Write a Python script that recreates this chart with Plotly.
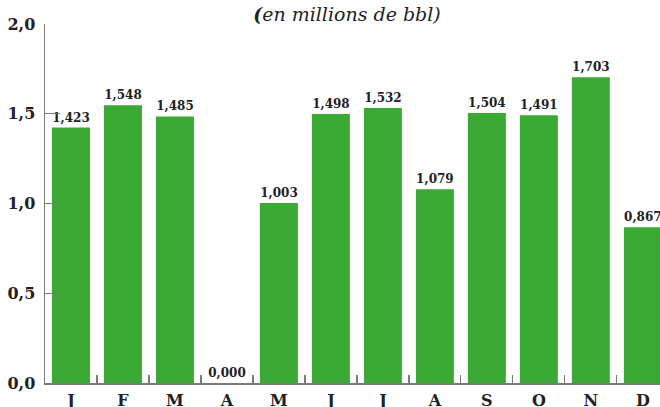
import plotly.graph_objects as go

months = ["Jan", "Feb", "Mar", "Apr", "May", "Jun", "Jul", "Aug", "Sep", "Oct", "Nov", "Dec"]
month_letters = ["J", "F", "M", "A", "M", "J", "J", "A", "S", "O", "N", "D"]
values = [1.423, 1.548, 1.485, 0.000, 1.003, 1.498, 1.532, 1.079, 1.504, 1.491, 1.703, 0.867]
value_labels = ["1,423", "1,548", "1,485", "0,000", "1,003", "1,498", "1,532", "1,079", "1,504", "1,491", "1,703", "0,867"]
y_tickvals = [0, 0.5, 1.0, 1.5, 2.0]
y_ticktext = ["0,0", "0,5", "1,0", "1,5", "2,0"]
title_text = "<b>(</b>en millions de bbl)"

GREEN = "#3BAA35"
AXIS = "#7a7a7a"
SERIF = "DejaVu Serif"

fig = go.Figure()
fig.add_trace(go.Bar(
    x=months,
    y=values,
    marker=dict(color=GREEN, line=dict(width=0)),
    text=value_labels,
    textposition="outside",
    textfont=dict(family=SERIF, size=12, color="#222222", weight="bold"),
    cliponaxis=False,
    hoverinfo="skip",
))

fig.update_layout(
    width=660, height=407,
    margin=dict(l=45, r=0, t=24, b=24),
    paper_bgcolor="white",
    plot_bgcolor="white",
    bargap=0.27,
    showlegend=False,
    title=dict(
        text=title_text,
        x=0.491, xref="paper", xanchor="center",
        y=1 - 14 / 407, yref="container", yanchor="middle",
        font=dict(family=SERIF, size=19, color="#222222", style="italic"),
    ),
    xaxis=dict(
        type="category",
        range=[-0.5, 11.33],
        tickvals=months,
        ticktext=month_letters,
        tickson="boundaries",
        ticks="inside",
        ticklen=8,
        tickwidth=1.2,
        tickcolor=AXIS,
        showline=True,
        linecolor=AXIS,
        linewidth=1.5,
        showgrid=False,
        zeroline=False,
        automargin=False,
        ticklabelstandoff=2,
        tickfont=dict(family=SERIF, size=16, color="#222222", weight="bold"),
    ),
    yaxis=dict(
        range=[0, 2.0],
        tickvals=y_tickvals,
        ticktext=y_ticktext,
        ticks="inside",
        ticklen=15,
        tickwidth=1.2,
        tickcolor=AXIS,
        showline=True,
        linecolor=AXIS,
        linewidth=1.5,
        showgrid=False,
        zeroline=False,
        automargin=False,
        ticklabelstandoff=5,
        tickfont=dict(family=SERIF, size=16, color="#222222", weight="bold"),
    ),
)

fig.write_html(
    "out.html",
    config={"displayModeBar": False, "staticPlot": True},
    post_script="document.body.style.margin='0';document.body.style.overflow='hidden';",
)
